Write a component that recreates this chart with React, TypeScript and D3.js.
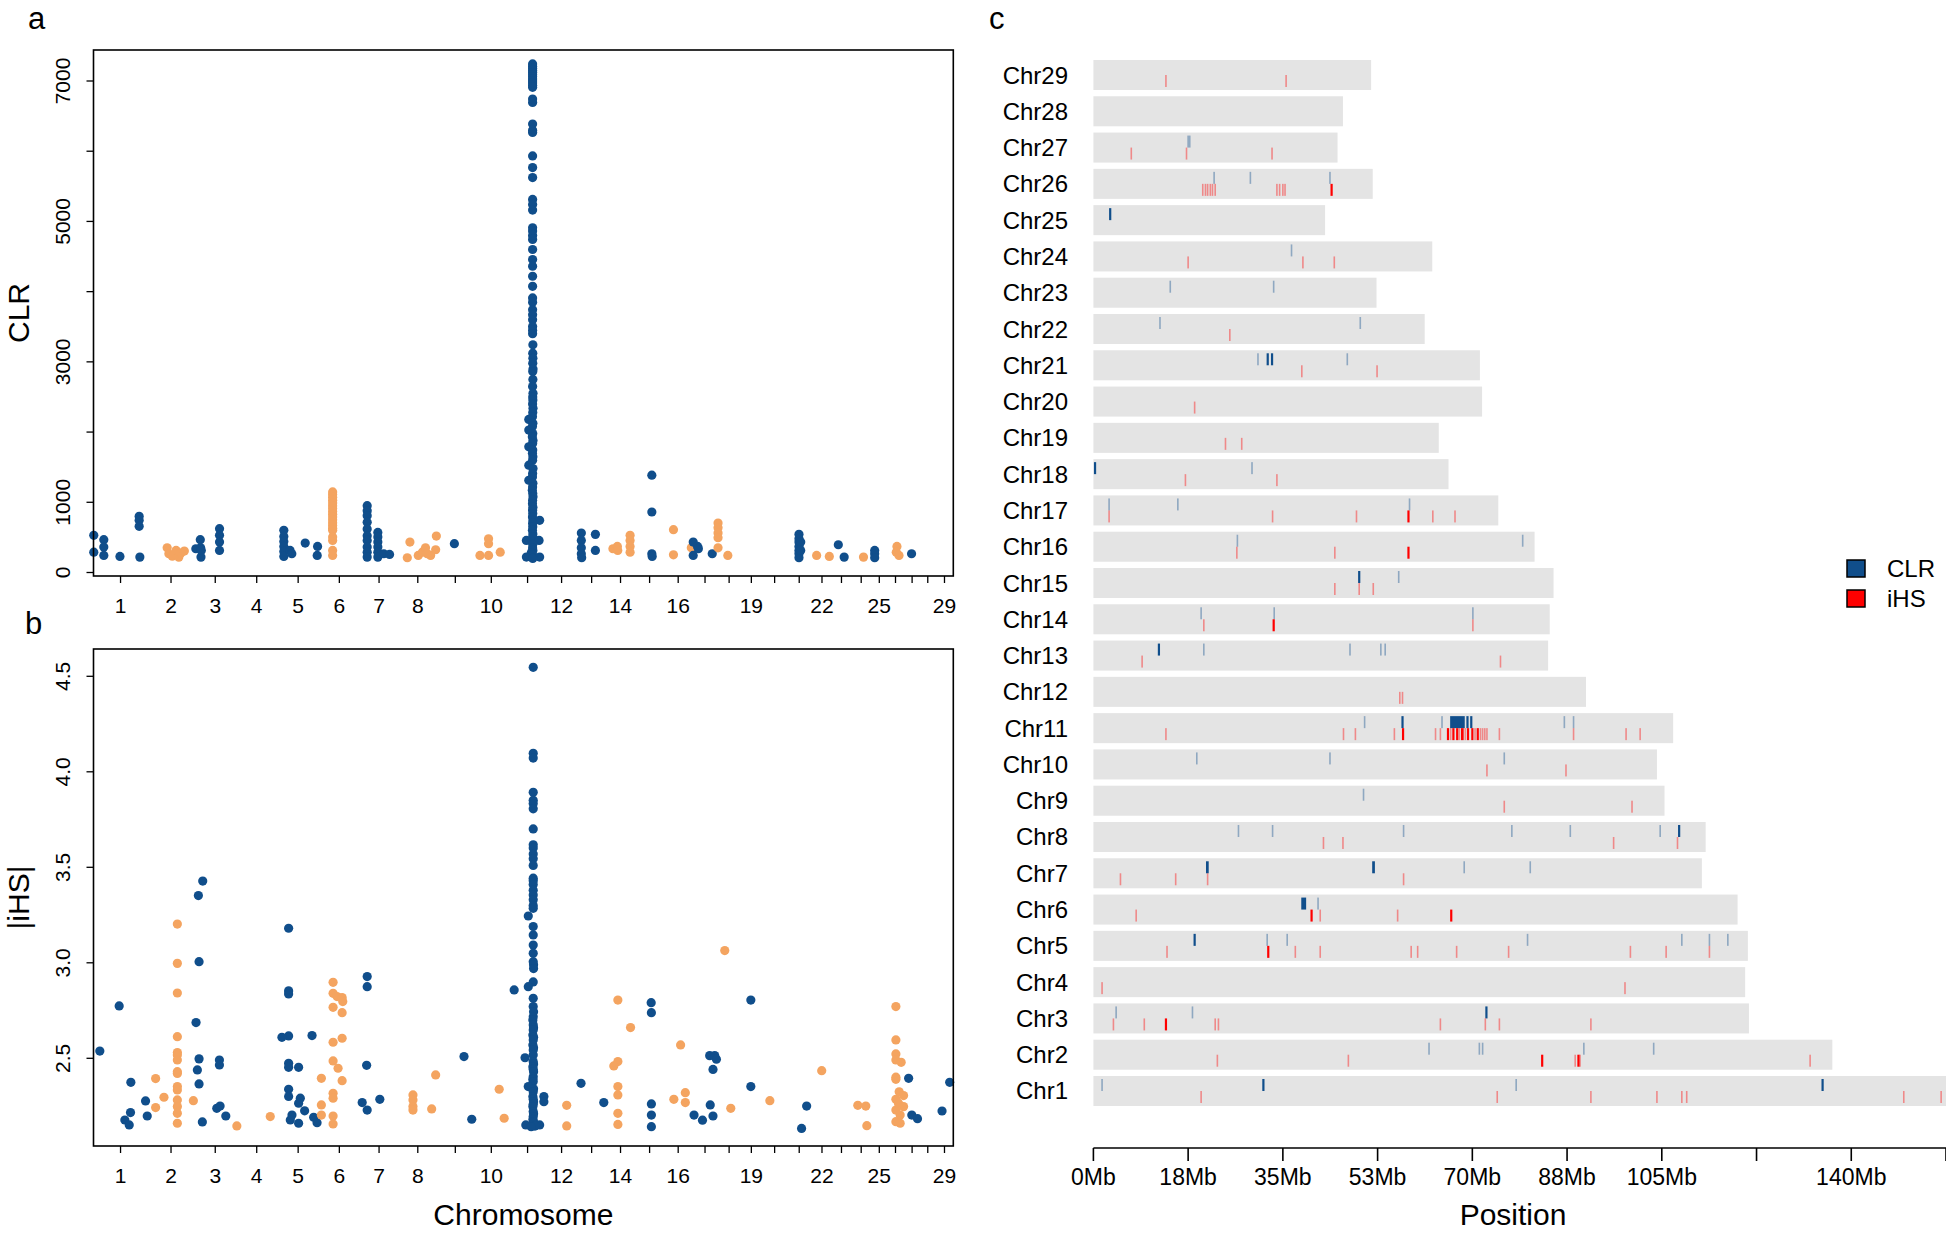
import * as d3 from "d3";

const FONT = "'Liberation Sans', Arial, Helvetica, sans-serif";
const BLUE = "#104E8B";
const ORANGE = "#F4A460";
const RED = "#FF0000";

// chromosome lengths in Mb (Chr1..Chr29)
const chromLengths = [
  157.5, 136.5, 121.1, 120.4, 120.9, 119.0, 112.4, 113.1, 105.5, 104.1, 107.1, 91.0, 84.0, 84.3, 85.0,
  81.5, 74.8, 65.6, 63.8, 71.8, 71.4, 61.2, 52.3, 62.6, 42.8, 51.6, 45.1, 46.1, 51.3,
];
const labelledChroms = [1, 2, 3, 4, 5, 6, 7, 8, 10, 12, 14, 16, 19, 22, 25, 29];

// [chromosome, position Mb, CLR]
const clrPoints: [number, number, number][] = [
  [1, 0.8, 529], [1, 0.8, 290], [1, 30, 467], [1, 30, 362], [1, 30, 243], [1, 77, 229], [1, 133, 800], [1, 133, 743], [1, 133, 657], [1, 135, 219],
  [2, 57, 352], [2, 62, 267], [2, 72, 233], [2, 83, 314], [2, 91, 219], [2, 97, 276], [2, 107, 305],
  [3, 4, 338], [3, 17, 467], [3, 18, 352], [3, 19, 219], [3, 20, 314], [3, 73, 624], [3, 73, 529], [3, 73, 433], [3, 73, 314],
  [5, 18.7, 600], [5, 18.7, 514], [5, 18.7, 443], [5, 18.7, 371], [5, 18.7, 300], [5, 18.7, 229], [5, 37, 314], [5, 42, 267], [5, 81, 419], [5, 117, 371], [5, 116, 243],
  [6, 40, 1148], [6, 40, 1110], [6, 40, 1070], [6, 40, 1030], [6, 40, 990], [6, 40, 950], [6, 40, 910], [6, 40, 870], [6, 40, 830], [6, 40, 790], [6, 40, 750], [6, 40, 710], [6, 40, 670], [6, 40, 630], [6, 40, 600], [6, 40, 505], [6, 40, 457], [6, 40, 314], [6, 40, 243],
  [7, 21.6, 952], [7, 21.6, 881], [7, 21.6, 810], [7, 21.6, 714], [7, 21.6, 619], [7, 21.6, 524], [7, 21.6, 457], [7, 21.6, 362], [7, 21.6, 290], [7, 21.6, 219],
  [7, 52.6, 571], [7, 52.6, 505], [7, 52.6, 433], [7, 52.6, 362], [7, 52.6, 290], [7, 52.6, 219], [7, 70, 267], [7, 86.7, 257],
  [8, 26, 210], [8, 33.7, 433], [8, 58, 243], [8, 70, 290], [8, 79, 352], [8, 84, 267], [8, 94, 243], [8, 108.6, 324], [8, 110.6, 519],
  [9, 50, 410],
  [10, 19, 243], [10, 44, 481], [10, 44, 410], [10, 44, 243], [10, 78, 290],
  [11, 68.2, 7243], [11, 68.2, 7210], [11, 68.2, 7180], [11, 68.2, 7150], [11, 68.2, 7120], [11, 68.2, 7090], [11, 68.2, 7060], [11, 68.2, 7030],
  [11, 68.2, 7000], [11, 68.2, 6970], [11, 68.2, 6940], [11, 68.2, 6910], [11, 68.2, 6743], [11, 68.2, 6695], [11, 68.2, 6386], [11, 68.2, 6300],
  [11, 68.2, 6267], [11, 68.2, 5933], [11, 68.2, 5767], [11, 68.2, 5624], [11, 68.2, 5314], [11, 68.2, 5240], [11, 68.2, 5162], [11, 68.2, 4910],
  [11, 68.2, 4862], [11, 68.2, 4800], [11, 68.2, 4743], [11, 68.2, 4600], [11, 68.2, 4457], [11, 68.2, 4362], [11, 68.2, 4219], [11, 68.2, 4076],
  [11, 68.2, 3910], [11, 68.2, 3850], [11, 68.2, 3743], [11, 68.2, 3671], [11, 68.2, 3600], [11, 68.2, 3505], [11, 68.2, 3450], [11, 68.2, 3400],
  [11, 69.0, 3243], [11, 68.6, 3124], [11, 69.0, 3050], [11, 68.6, 2981], [11, 69.4, 2900], [11, 68.6, 2862], [11, 69.0, 2750], [11, 68.2, 2648],
  [11, 69.4, 2552], [11, 68.6, 2500], [11, 69.0, 2457], [11, 68.2, 2400], [11, 69.4, 2338], [11, 68.6, 2280], [11, 67.8, 2219], [11, 57.1, 2180],
  [11, 69.0, 2124], [11, 67.8, 2080], [11, 57.1, 2029], [11, 68.6, 1980], [11, 67.4, 1933], [11, 69.4, 1880], [11, 68.2, 1838], [11, 57.1, 1790],
  [11, 68.6, 1743], [11, 67.8, 1700], [11, 69.0, 1648], [11, 68.2, 1600], [11, 57.1, 1529], [11, 69.4, 1480], [11, 68.2, 1410], [11, 67.8, 1360],
  [11, 57.1, 1314], [11, 69.0, 1270], [11, 68.2, 1219], [11, 67.4, 1170], [11, 68.6, 1124], [11, 69.4, 1080], [11, 68.2, 1029], [11, 67.8, 980],
  [11, 69.0, 930], [11, 68.2, 886], [11, 68.6, 840], [11, 67.8, 790], [11, 69.4, 743], [11, 88.7, 743], [11, 68.2, 700], [11, 68.6, 650],
  [11, 67.8, 600], [11, 69.0, 550], [11, 68.2, 500], [11, 50.1, 457], [11, 87.0, 457], [11, 68.6, 400], [11, 68.2, 350], [11, 69.0, 314],
  [11, 64.4, 280], [11, 68.2, 250], [11, 88.7, 220], [11, 50.1, 220], [11, 68.6, 200],
  [13, 12, 562], [13, 12, 457], [13, 12, 352], [13, 12, 267], [13, 13, 210], [13, 53, 543], [13, 53, 314],
  [14, 20, 338], [14, 33, 371], [14, 34, 314], [14, 70, 529], [14, 70, 457], [14, 70, 371], [14, 70, 290],
  [15, 49, 1386], [15, 49, 862], [15, 49, 267], [15, 50, 229],
  [16, 27, 610], [16, 27, 252], [16, 79, 352],
  [17, 3, 433], [17, 3, 243], [17, 15.6, 371], [17, 18, 340], [17, 58.4, 267],
  [18, 0.5, 705], [18, 0.5, 638], [18, 0.5, 562], [18, 0.5, 495], [18, 0.5, 352], [18, 29, 243],
  [21, 35, 543], [21, 35, 481], [21, 35, 433], [21, 35, 371], [21, 35, 314], [21, 35, 267], [21, 35, 210], [21, 40, 433], [21, 40, 314],
  [22, 15, 243], [22, 52, 229],
  [23, 17, 395], [23, 34, 219],
  [24, 38, 219],
  [25, 8, 314], [25, 8, 267], [25, 8, 210],
  [26, 30, 371], [26, 28, 290], [26, 36, 243],
  [27, 21, 267],
];

// [chromosome, position Mb, |iHS|]
const ihsPoints: [number, number, number][] = [
  [1, 18.4, 2.538], [1, 74.8, 2.774], [1, 108.8, 2.374], [1, 91.3, 2.177], [1, 104, 2.151], [1, 107.8, 2.216], [1, 151.6, 2.277], [1, 156.5, 2.198],
  [2, 23.4, 2.394], [2, 23.4, 2.242], [2, 47.7, 2.296],
  [2, 86.7, 3.203], [2, 86.7, 2.997], [2, 86.7, 2.842], [2, 86.7, 2.613], [2, 86.7, 2.53], [2, 86.7, 2.517], [2, 86.7, 2.491], [2, 86.7, 2.43],
  [2, 86.7, 2.421], [2, 86.7, 2.352], [2, 86.7, 2.334], [2, 86.7, 2.282], [2, 86.7, 2.247], [2, 86.7, 2.212], [2, 86.7, 2.16], [2, 133.3, 2.278],
  [3, 24.1, 3.428], [3, 11.4, 3.352], [3, 13.4, 3.006], [3, 4.6, 2.687], [3, 13.4, 2.497], [3, 8.5, 2.439], [3, 13.4, 2.366], [3, 23, 2.167],
  [3, 72.7, 2.491], [3, 72.7, 2.465], [3, 65, 2.238], [3, 74.6, 2.25], [3, 91.3, 2.198],
  [4, 2.3, 2.146], [4, 99.6, 2.195],
  [5, 32.7, 3.181], [5, 32.7, 2.853], [5, 32.7, 2.837], [5, 32.7, 2.617], [5, 13.2, 2.61], [5, 32.7, 2.474], [5, 32.7, 2.453], [5, 32.7, 2.338],
  [5, 32.7, 2.3], [5, 42.5, 2.203], [5, 37.6, 2.177], [5, 61.8, 2.16], [5, 100.9, 2.619], [5, 61.8, 2.453], [5, 66.8, 2.291], [5, 61.8, 2.265],
  [5, 79.3, 2.225], [5, 105.6, 2.191], [5, 115.5, 2.163],
  [6, 41.3, 2.898], [6, 41.3, 2.84], [6, 52.9, 2.823], [6, 67.6, 2.818], [6, 69.5, 2.797], [6, 41.3, 2.767], [6, 67.6, 2.739], [6, 41.3, 2.584],
  [6, 67.6, 2.605], [6, 41.3, 2.486], [6, 55.8, 2.448], [6, 67.6, 2.383], [6, 7.2, 2.395], [6, 41.3, 2.317], [6, 41.3, 2.291], [6, 7.2, 2.256],
  [6, 7.2, 2.203], [6, 41.3, 2.198], [6, 41.3, 2.156],
  [7, 21.6, 2.928], [7, 21.6, 2.875], [7, 20, 2.463], [7, 7, 2.268], [7, 21.6, 2.229], [7, 58.4, 2.285],
  [8, 42.5, 2.308], [8, 42.5, 2.282], [8, 42.5, 2.247], [8, 42.5, 2.229], [8, 108.6, 2.413], [8, 97, 2.235],
  [9, 78, 2.509], [9, 100.6, 2.181],
  [10, 75, 2.338], [10, 89.5, 2.186],
  [11, 14.5, 2.858], [11, 101, 2.3], [11, 101, 2.273],
  [11, 70, 4.547], [11, 70, 4.097], [11, 70, 4.072], [11, 70, 3.893], [11, 70, 3.851], [11, 70, 3.834], [11, 70, 3.806], [11, 70, 3.701],
  [11, 70, 3.618], [11, 70, 3.601], [11, 70, 3.57], [11, 70, 3.545], [11, 70, 3.51], [11, 70, 3.443], [11, 70, 3.43], [11, 70, 3.41],
  [11, 70, 3.38], [11, 70, 3.355], [11, 70, 3.33], [11, 70, 3.3], [11, 70, 3.285], [11, 55.6, 3.245], [11, 70, 3.19], [11, 70, 3.146],
  [11, 70, 3.093], [11, 70, 3.05], [11, 70, 3.006], [11, 71, 2.99], [11, 71, 2.97], [11, 70, 2.9], [11, 55.6, 2.875], [11, 70, 2.814],
  [11, 70, 2.771], [11, 71, 2.744], [11, 70, 2.718], [11, 69, 2.7], [11, 70, 2.675], [11, 71, 2.66], [11, 70, 2.648], [11, 69, 2.622],
  [11, 71, 2.61], [11, 70, 2.596], [11, 69, 2.57], [11, 71, 2.555], [11, 70, 2.544], [11, 70, 2.517], [11, 46.2, 2.503], [11, 70, 2.483],
  [11, 71, 2.47], [11, 69, 2.456], [11, 70, 2.443], [11, 71, 2.43], [11, 70, 2.404], [11, 69, 2.39], [11, 70, 2.378], [11, 55.6, 2.352],
  [11, 71, 2.34], [11, 70, 2.325], [11, 69, 2.3], [11, 70, 2.285], [11, 71, 2.273], [11, 70, 2.26], [11, 69, 2.247], [11, 70, 2.221],
  [11, 71, 2.21], [11, 70, 2.195], [11, 69, 2.18], [11, 71, 2.168], [11, 70, 2.16], [11, 48.4, 2.151], [11, 88.7, 2.151], [11, 75, 2.145],
  [11, 64, 2.142],
  [12, 60.4, 2.254], [12, 60.4, 2.146],
  [13, 11.1, 2.369], [13, 77.4, 2.268],
  [14, 34.4, 2.805], [14, 34.4, 2.483], [14, 22.6, 2.46], [14, 34.4, 2.352], [14, 34.4, 2.308], [14, 34.4, 2.212], [14, 34.4, 2.154], [14, 71.3, 2.661],
  [15, 47.1, 2.791], [15, 47.7, 2.739], [15, 47.7, 2.261], [15, 47.7, 2.203], [15, 47.7, 2.142],
  [16, 47.8, 2.57], [16, 28.1, 2.285], [16, 61.5, 2.32], [16, 61.5, 2.268],
  [17, 5.4, 2.203], [17, 30, 2.176], [17, 60.6, 2.198], [17, 52.6, 2.256], [17, 51, 2.514], [17, 65.6, 2.514], [17, 70.6, 2.495], [17, 60.6, 2.442],
  [18, 37.6, 2.238], [18, 20.1, 3.064],
  [19, 30.4, 2.805], [19, 30.4, 2.352],
  [20, 22, 2.278],
  [21, 57.3, 2.25], [21, 42.6, 2.133],
  [22, 29.8, 2.435],
  [24, 21.4, 2.254], [24, 44.7, 2.25], [24, 47.7, 2.147],
  [26, 26.9, 2.771], [26, 26.9, 2.596], [26, 26.9, 2.523], [26, 26.9, 2.491], [26, 26.9, 2.401], [26, 26.9, 2.39], [26, 26.9, 2.285], [26, 26.9, 2.229],
  [26, 26.9, 2.168], [26, 42.3, 2.479], [26, 36.5, 2.325], [26, 49.3, 2.305], [26, 34.5, 2.264], [26, 49.3, 2.247], [26, 39.4, 2.203], [26, 39.4, 2.16],
  [27, 12.4, 2.395], [27, 21.7, 2.203], [27, 38.3, 2.184],
  [29, 18.5, 2.224], [29, 40.8, 2.374],
];

// significant windows on the karyogram: [chromosome, start Mb, end Mb]
const clrMarks: [number, number, number][] = [
  [27, 17.5, 17.5], [27, 17.8, 17.8],
  [26, 22.3, 22.3], [26, 29.0, 29.0], [26, 43.7, 43.7],
  [25, 2.9, 3.3],
  [24, 36.6, 36.6],
  [23, 14.2, 14.2], [23, 33.3, 33.3],
  [22, 12.3, 12.3], [22, 49.3, 49.3],
  [21, 30.4, 30.4], [21, 32.0, 32.2], [21, 32.8, 33.0], [21, 46.9, 46.9],
  [18, 0.1, 0.5], [18, 29.3, 29.3],
  [17, 2.9, 2.9], [17, 15.6, 15.6], [17, 58.4, 58.4],
  [16, 26.6, 26.6], [16, 79.3, 79.3],
  [15, 48.9, 49.2], [15, 56.4, 56.4],
  [14, 19.9, 19.9], [14, 33.4, 33.4], [14, 70.1, 70.1],
  [13, 11.9, 12.2], [13, 20.4, 20.4], [13, 47.4, 47.4], [13, 53.1, 53.1], [13, 53.9, 53.9],
  [11, 50.1, 50.1], [11, 56.9, 57.3], [11, 64.4, 64.4], [11, 65.9, 68.6], [11, 68.9, 69.1], [11, 69.6, 69.9], [11, 87.0, 87.0], [11, 88.7, 88.7],
  [10, 19.1, 19.1], [10, 43.7, 43.7], [10, 75.9, 75.9],
  [9, 49.9, 49.9],
  [8, 26.8, 26.8], [8, 33.1, 33.1], [8, 57.3, 57.3], [8, 77.3, 77.3], [8, 88.1, 88.1], [8, 104.7, 104.7], [8, 108.0, 108.2],
  [7, 20.8, 21.3], [7, 51.5, 52.0], [7, 68.5, 68.5], [7, 80.7, 80.7],
  [6, 38.4, 39.3], [6, 41.5, 41.5],
  [5, 18.5, 18.8], [5, 32.1, 32.1], [5, 35.8, 35.8], [5, 80.2, 80.2], [5, 108.7, 108.7], [5, 113.8, 113.8], [5, 117.2, 117.2],
  [3, 4.2, 4.2], [3, 18.3, 18.3], [3, 72.4, 72.6],
  [2, 62.0, 62.0], [2, 71.3, 71.3], [2, 71.9, 71.9], [2, 90.6, 90.6], [2, 103.5, 103.5],
  [1, 1.6, 1.6], [1, 31.2, 31.4], [1, 78.1, 78.1], [1, 134.5, 134.7],
];

const ihsMarks: [number, number, number][] = [
  [29, 13.4, 13.4], [29, 35.6, 35.6],
  [27, 7.0, 7.0], [27, 17.2, 17.2], [27, 33.0, 33.0],
  [26, 20.2, 20.2], [26, 20.7, 20.7], [26, 21.1, 21.1], [26, 21.6, 21.6], [26, 22.0, 22.0], [26, 22.5, 22.5],
  [26, 33.9, 33.9], [26, 34.4, 34.4], [26, 35.0, 35.0], [26, 35.4, 35.4], [26, 43.8, 44.0],
  [24, 17.5, 17.5], [24, 38.7, 38.7], [24, 44.5, 44.5],
  [22, 25.2, 25.2],
  [21, 38.5, 38.5], [21, 52.4, 52.4],
  [20, 18.7, 18.7],
  [19, 24.4, 24.4], [19, 27.4, 27.4],
  [18, 17.0, 17.0], [18, 33.9, 33.9],
  [17, 2.9, 2.9], [17, 33.1, 33.1], [17, 48.6, 48.6], [17, 58.0, 58.2], [17, 62.7, 62.7], [17, 66.8, 66.8],
  [16, 26.5, 26.5], [16, 44.6, 44.6], [16, 58.0, 58.2],
  [15, 44.6, 44.6], [15, 49.1, 49.1], [15, 51.7, 51.7],
  [14, 20.4, 20.4], [14, 33.1, 33.5], [14, 70.1, 70.1],
  [13, 9.0, 9.0], [13, 75.2, 75.2],
  [12, 56.6, 56.6], [12, 57.1, 57.1],
  [11, 13.4, 13.4], [11, 46.2, 46.2], [11, 48.4, 48.4], [11, 55.6, 55.6], [11, 57.0, 57.2], [11, 63.2, 63.2], [11, 64.1, 64.1],
  [11, 65.3, 65.7], [11, 66.0, 66.0], [11, 66.3, 66.7], [11, 67.0, 67.3], [11, 67.6, 67.6], [11, 67.9, 68.4], [11, 68.7, 68.7],
  [11, 69.0, 69.4], [11, 69.8, 70.2], [11, 70.5, 70.5], [11, 70.8, 71.1], [11, 71.5, 71.5], [11, 71.9, 71.9], [11, 72.3, 72.3],
  [11, 72.7, 72.7], [11, 75.0, 75.0], [11, 88.7, 88.7], [11, 98.4, 98.4], [11, 101.0, 101.0],
  [10, 72.7, 72.7], [10, 87.3, 87.3],
  [9, 75.9, 75.9], [9, 99.5, 99.5],
  [8, 42.5, 42.5], [8, 46.1, 46.1], [8, 96.1, 96.1], [8, 107.9, 107.9],
  [7, 5.0, 5.0], [7, 15.2, 15.2], [7, 21.1, 21.1], [7, 57.3, 57.3],
  [6, 7.9, 7.9], [6, 40.1, 40.5], [6, 41.9, 41.9], [6, 56.2, 56.2], [6, 65.9, 66.2],
  [5, 13.6, 13.6], [5, 32.1, 32.5], [5, 37.3, 37.3], [5, 41.9, 41.9], [5, 58.7, 58.7], [5, 59.9, 59.9], [5, 67.1, 67.1],
  [5, 76.7, 76.7], [5, 99.2, 99.2], [5, 105.8, 105.8], [5, 113.8, 113.8],
  [4, 1.6, 1.6], [4, 98.2, 98.2],
  [3, 3.7, 3.7], [3, 9.4, 9.4], [3, 13.2, 13.6], [3, 22.5, 22.5], [3, 23.1, 23.1], [3, 64.1, 64.1], [3, 72.4, 72.4], [3, 75.0, 75.0], [3, 91.9, 91.9],
  [2, 22.9, 22.9], [2, 47.1, 47.1], [2, 82.7, 83.1], [2, 89.0, 89.0], [2, 89.4, 89.6], [2, 89.9, 89.9], [2, 132.4, 132.4],
  [1, 19.9, 19.9], [1, 74.6, 74.6], [1, 91.9, 91.9], [1, 104.1, 104.1], [1, 108.7, 108.7], [1, 109.6, 109.6], [1, 149.7, 149.7], [1, 156.6, 156.6],
];

const clrTicks = [0, 1000, 2000, 3000, 4000, 5000, 6000, 7000];
const clrTickLabels = [0, 1000, 3000, 5000, 7000];
const ihsTicks = [2.5, 3.0, 3.5, 4.0, 4.5];
const positionTicks = [0, 17.5, 35, 52.5, 70, 87.5, 105, 122.5, 140, 157.5];
const positionLabels = ["0Mb", "18Mb", "35Mb", "53Mb", "70Mb", "88Mb", "105Mb", "", "140Mb", ""];

const PLOT = { left: 93.5, right: 953.3 };
const PANEL_A = { top: 50, bottom: 576 };
const PANEL_B = { top: 649, bottom: 1146 };

export default function App() {
  const offsets = [0, ...d3.cumsum(chromLengths)];
  const total = d3.sum(chromLengths);
  const xGenome = d3.scaleLinear().domain([0, total]).range([PLOT.left, PLOT.right]);
  const gx = (chr: number, pos: number) => xGenome(offsets[chr - 1] + pos);
  const centers = chromLengths.map((len, i) => xGenome(offsets[i] + len / 2));

  const yClr = d3.scaleLinear().domain([0, 7000]).range([572.5, 81]);
  const yIhs = d3.scaleLinear().domain([2.5, 4.5]).range([1058.3, 676.3]);

  const chromNames = d3.range(29, 0, -1).map((c) => `Chr${c}`);
  const yChrom = d3.scaleBand().domain(chromNames).range([60, 1106]).paddingInner(0.173).paddingOuter(0);
  const xPos = d3.scaleLinear().domain([0, 157.5]).range([1093.4, 1946]);
  const bw = yChrom.bandwidth();

  const pointColor = (chr: number) => (chr % 2 === 1 ? BLUE : ORANGE);

  const genomeAxis = (bottom: number) => (
    <g>
      {centers.map((cx, i) => (
        <line key={i} x1={cx} x2={cx} y1={bottom} y2={bottom + 7} stroke="#000" strokeWidth={1.3} />
      ))}
      {labelledChroms.map((c) => (
        <text key={c} x={centers[c - 1]} y={bottom + 37} textAnchor="middle" fontSize={21}>
          {c}
        </text>
      ))}
    </g>
  );

  const markRect = (m: [number, number, number], kind: "clr" | "ihs", i: number) => {
    const [chr, start, end] = m;
    const y0 = yChrom(`Chr${chr}`) ?? 0;
    const thin = end - start < 0.05;
    const w = thin ? 1.6 : Math.max(xPos(end) - xPos(start), 2.2);
    const x = thin ? xPos(start) - 0.8 : xPos(start);
    const y = kind === "clr" ? y0 + 3 : y0 + 15;
    return (
      <rect
        key={`${kind}${i}`}
        x={x}
        y={y}
        width={w}
        height={12}
        fill={kind === "clr" ? BLUE : RED}
        opacity={thin ? 0.4 : 1}
      />
    );
  };

  return (
    <div style={{ position: "absolute", left: 0, top: 0 }}>
      <svg width={1946} height={1233} fontFamily={FONT} style={{ display: "block", background: "#fff" }}>
        {/* panel labels */}
        <text x={28} y={29} fontSize={31}>a</text>
        <text x={25} y={634} fontSize={31}>b</text>
        <text x={989} y={29} fontSize={31}>c</text>

        {/* panel a: CLR */}
        {clrPoints.map(([chr, pos, v], i) => (
          <circle key={i} cx={gx(chr, pos)} cy={yClr(v)} r={4.6} fill={pointColor(chr)} />
        ))}
        <rect x={PLOT.left} y={PANEL_A.top} width={PLOT.right - PLOT.left} height={PANEL_A.bottom - PANEL_A.top} fill="none" stroke="#000" strokeWidth={1.6} />
        {clrTicks.map((t) => (
          <line key={t} x1={PLOT.left - 7} x2={PLOT.left} y1={yClr(t)} y2={yClr(t)} stroke="#000" strokeWidth={1.3} />
        ))}
        {clrTickLabels.map((t) => (
          <text key={t} transform={`translate(70,${yClr(t)}) rotate(-90)`} textAnchor="middle" fontSize={21}>
            {t}
          </text>
        ))}
        <text transform={`translate(29,${(PANEL_A.top + PANEL_A.bottom) / 2}) rotate(-90)`} textAnchor="middle" fontSize={30}>
          CLR
        </text>
        {genomeAxis(PANEL_A.bottom)}

        {/* panel b: |iHS| */}
        {ihsPoints.map(([chr, pos, v], i) => (
          <circle key={i} cx={gx(chr, pos)} cy={yIhs(v)} r={4.6} fill={pointColor(chr)} />
        ))}
        <rect x={PLOT.left} y={PANEL_B.top} width={PLOT.right - PLOT.left} height={PANEL_B.bottom - PANEL_B.top} fill="none" stroke="#000" strokeWidth={1.6} />
        {ihsTicks.map((t) => (
          <g key={t}>
            <line x1={PLOT.left - 7} x2={PLOT.left} y1={yIhs(t)} y2={yIhs(t)} stroke="#000" strokeWidth={1.3} />
            <text transform={`translate(70,${yIhs(t)}) rotate(-90)`} textAnchor="middle" fontSize={21}>
              {t.toFixed(1)}
            </text>
          </g>
        ))}
        <text transform={`translate(29,${(PANEL_B.top + PANEL_B.bottom) / 2}) rotate(-90)`} textAnchor="middle" fontSize={30}>
          |iHS|
        </text>
        {genomeAxis(PANEL_B.bottom)}
        <text x={(PLOT.left + PLOT.right) / 2} y={1225} textAnchor="middle" fontSize={30}>
          Chromosome
        </text>

        {/* panel c: karyogram */}
        {chromNames.map((name, i) => {
          const chr = 29 - i;
          const y0 = yChrom(name) ?? 0;
          return (
            <g key={name}>
              <rect x={xPos(0)} y={y0} width={xPos(chromLengths[chr - 1]) - xPos(0)} height={bw} fill="#e4e4e4" />
              <text x={1068} y={y0 + bw / 2 + 8.5} textAnchor="end" fontSize={24}>
                {name}
              </text>
            </g>
          );
        })}
        {clrMarks.map((m, i) => markRect(m, "clr", i))}
        {ihsMarks.map((m, i) => markRect(m, "ihs", i))}

        <line x1={xPos(0)} x2={xPos(157.5)} y1={1148} y2={1148} stroke="#000" strokeWidth={1.6} />
        {positionTicks.map((t, i) => (
          <g key={t}>
            <line x1={xPos(t)} x2={xPos(t)} y1={1148} y2={1161} stroke="#000" strokeWidth={1.6} />
            <text x={xPos(t)} y={1185} textAnchor="middle" fontSize={23}>
              {positionLabels[i]}
            </text>
          </g>
        ))}
        <text x={1513} y={1225} textAnchor="middle" fontSize={30}>
          Position
        </text>

        {/* legend */}
        <rect x={1847} y={560} width={18} height={17} fill={BLUE} stroke="#000" strokeWidth={1.5} />
        <rect x={1847} y={590} width={18} height={17} fill={RED} stroke="#000" strokeWidth={1.5} />
        <text x={1887} y={577} fontSize={24}>CLR</text>
        <text x={1887} y={607} fontSize={24}>iHS</text>
      </svg>
    </div>
  );
}
